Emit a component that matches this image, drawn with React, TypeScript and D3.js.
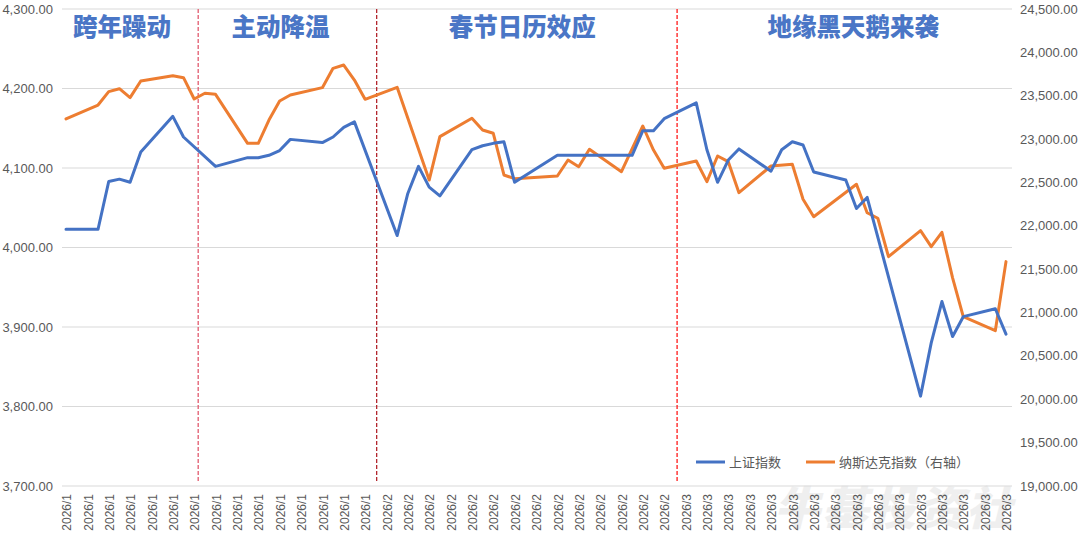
import { useEffect, useRef } from "react";
import * as d3 from "d3";

// trading dates (union of both markets, weekends left out; lines connect over gaps)
const dates = [
  "2026-01-02", "2026-01-05", "2026-01-06", "2026-01-07", "2026-01-08", "2026-01-09",
  "2026-01-12", "2026-01-13", "2026-01-14", "2026-01-15", "2026-01-16",
  "2026-01-19", "2026-01-20", "2026-01-21", "2026-01-22", "2026-01-23",
  "2026-01-26", "2026-01-27", "2026-01-28", "2026-01-29", "2026-01-30",
  "2026-02-02", "2026-02-03", "2026-02-04", "2026-02-05", "2026-02-06",
  "2026-02-09", "2026-02-10", "2026-02-11", "2026-02-12", "2026-02-13",
  "2026-02-17", "2026-02-18", "2026-02-19", "2026-02-20",
  "2026-02-23", "2026-02-24", "2026-02-25", "2026-02-26", "2026-02-27",
  "2026-03-02", "2026-03-03", "2026-03-04", "2026-03-05", "2026-03-06",
  "2026-03-09", "2026-03-10", "2026-03-11", "2026-03-12", "2026-03-13",
  "2026-03-16", "2026-03-17", "2026-03-18", "2026-03-19", "2026-03-20",
  "2026-03-23", "2026-03-24", "2026-03-25", "2026-03-26", "2026-03-27",
  "2026-03-30", "2026-03-31",
];

// 上证指数 (left axis)
const shanghai: (number | null)[] = [
  4023, 4023, 4083, 4086, 4082, 4120,
  4165, 4139, null, null, 4102,
  4113, 4113, 4116, 4122, 4136,
  4132, 4139, 4151, 4158, null,
  4015, 4068, 4102, 4076, 4065,
  4123, 4128, 4131, 4133, 4082,
  4116, null, null, null,
  null, 4116, 4147, 4147, 4162,
  4182, 4123, 4082, 4110, 4124,
  4096, 4123, 4133, 4129, 4095,
  4085, 4049, 4063, null, null,
  3813, 3880, 3932, 3888, 3913,
  3923, 3891,
];

// 纳斯达克指数 (right axis)
const nasdaq: (number | null)[] = [
  23232, 23393, 23547, 23581, 23478, 23670,
  23731, 23708, 23462, 23528, 23516,
  22951, 22951, 23220, 23439, 23508,
  23593, 23816, 23854, 23681, 23459,
  23597, null, null, 22528, 23028,
  23240, 23105, 23067, 22586, 22544,
  22574, 22759, 22682, 22882,
  22624, null, 23151, 22874, 22663,
  22747, 22509, 22805, 22740, 22382,
  22690, null, 22709, 22306, 22105,
  null, 22479, 22151, 22087, 21644,
  21944, 21760, 21925, 21400, 20952,
  20791, 21587,
];

const leftTicks = [3700, 3800, 3900, 4000, 4100, 4200, 4300];
const rightTicks = [19000, 19500, 20000, 20500, 21000, 21500, 22000, 22500, 23000, 23500, 24000, 24500];

const phaseNames = ["跨年躁动", "主动降温", "春节日历效应", "地缘黑天鹅来袭"];
const phaseLabelAt = ["2026-01-07 06:00", "2026-01-22 02:00", "2026-02-13 17:00", "2026-03-16 17:00"];
const phaseBreaks = ["2026-01-14 09:00", "2026-01-31 02:00", "2026-02-28 05:00"];
const breakColors = ["#e25a6e", "#b3262e", "#ff1a1a"];

const seriesNames = ["上证指数", "纳斯达克指数（右轴）"];
const BLUE = "#4472C4";
const ORANGE = "#ED7D31";
const FONT = "'Liberation Sans', Arial, 'Noto Sans CJK SC', sans-serif";

export default function App() {
  const ref = useRef<SVGSVGElement>(null);

  useEffect(() => {
    if (!ref.current) return;
    const svg = d3.select(ref.current);
    svg.selectAll("*").remove();

    const parse = d3.timeParse("%Y-%m-%d");
    const parseT = d3.timeParse("%Y-%m-%d %H:%M");
    const days = dates.map((d) => parse(d) as Date);

    const top = 9;
    const bottom = 486;
    const x = d3.scaleTime().domain([days[0], days[days.length - 1]]).range([66, 1006]);
    const yL = d3.scaleLinear().domain([3700, 4300]).range([bottom, top]);
    const yR = d3.scaleLinear().domain([19000, 24500]).range([bottom, top]);

    // watermark
    svg
      .append("text")
      .attr("x", 0)
      .attr("y", 0)
      .attr("transform", "translate(774,525) skewX(-14)")
      .attr("font-family", "'Noto Sans CJK SC', sans-serif")
      .attr("font-weight", 900)
      .attr("font-size", 46)
      .attr("letter-spacing", 2)
      .attr("fill", "#efefef")
      .text("牛基投资社");

    // grid
    svg
      .append("g")
      .selectAll("line")
      .data(leftTicks)
      .join("line")
      .attr("x1", 62)
      .attr("x2", 1012)
      .attr("y1", (d) => yL(d))
      .attr("y2", (d) => yL(d))
      .attr("stroke", "#d9d9d9")
      .attr("stroke-width", 1);

    // left axis labels
    svg
      .append("g")
      .selectAll("text")
      .data(leftTicks)
      .join("text")
      .attr("x", 53)
      .attr("y", (d) => yL(d))
      .attr("dy", "0.35em")
      .attr("text-anchor", "end")
      .attr("font-family", FONT)
      .attr("font-size", 13)
      .attr("fill", "#595959")
      .text((d) => d3.format(",.2f")(d));

    // right axis labels
    svg
      .append("g")
      .selectAll("text")
      .data(rightTicks)
      .join("text")
      .attr("x", 1020)
      .attr("y", (d) => yR(d))
      .attr("dy", "0.35em")
      .attr("font-family", FONT)
      .attr("font-size", 13)
      .attr("fill", "#595959")
      .text((d) => d3.format(",.2f")(d));

    // x labels every other day
    const xTicks = d3.timeDay.range(days[0], d3.timeDay.offset(days[days.length - 1], 1), 2);
    const fmt = d3.timeFormat("%Y/%-m");
    svg
      .append("g")
      .selectAll("text")
      .data(xTicks)
      .join("text")
      .attr("transform", (d) => `translate(${x(d) + 1},494) rotate(-90)`)
      .attr("dy", "0.35em")
      .attr("text-anchor", "end")
      .attr("font-family", FONT)
      .attr("font-size", 12)
      .attr("fill", "#595959")
      .text((d) => fmt(d));

    // phase break lines
    svg
      .append("g")
      .selectAll("line")
      .data(phaseBreaks)
      .join("line")
      .attr("x1", (d) => x(parseT(d) as Date))
      .attr("x2", (d) => x(parseT(d) as Date))
      .attr("y1", top)
      .attr("y2", bottom - 3)
      .attr("stroke", (_, i) => breakColors[i])
      .attr("stroke-width", 1.3)
      .attr("stroke-dasharray", "4,2");

    // phase titles
    svg
      .append("g")
      .selectAll("text")
      .data(phaseNames)
      .join("text")
      .attr("x", (_, i) => x(parseT(phaseLabelAt[i]) as Date))
      .attr("y", 36)
      .attr("text-anchor", "middle")
      .attr("font-family", "'Noto Sans CJK SC', sans-serif")
      .attr("font-weight", 900)
      .attr("font-size", 24.5)
      .attr("fill", "#4a76c6")
      .text((d) => d);

    // lines
    type Pt = { date: Date; v: number };
    const toPts = (vals: (number | null)[]): Pt[] =>
      vals
        .map((v, i) => ({ date: days[i], v }))
        .filter((p): p is Pt => p.v !== null);

    const lineL = d3.line<Pt>().x((p) => x(p.date)).y((p) => yL(p.v));
    const lineR = d3.line<Pt>().x((p) => x(p.date)).y((p) => yR(p.v));

    svg
      .append("path")
      .attr("d", lineR(toPts(nasdaq)))
      .attr("fill", "none")
      .attr("stroke", ORANGE)
      .attr("stroke-width", 3)
      .attr("stroke-linejoin", "round")
      .attr("stroke-linecap", "round");

    svg
      .append("path")
      .attr("d", lineL(toPts(shanghai)))
      .attr("fill", "none")
      .attr("stroke", BLUE)
      .attr("stroke-width", 3)
      .attr("stroke-linejoin", "round")
      .attr("stroke-linecap", "round");

    // legend
    const legend = svg.append("g").attr("transform", "translate(696,462)");
    const legX = [0, 110];
    const legColors = [BLUE, ORANGE];
    seriesNames.forEach((name, i) => {
      legend
        .append("line")
        .attr("x1", legX[i])
        .attr("x2", legX[i] + 29)
        .attr("y1", 0)
        .attr("y2", 0)
        .attr("stroke", legColors[i])
        .attr("stroke-width", 3);
      legend
        .append("text")
        .attr("x", legX[i] + 33)
        .attr("y", 0)
        .attr("dy", "0.35em")
        .attr("font-family", "'Noto Sans CJK SC', sans-serif")
        .attr("font-size", 13)
        .attr("fill", "#595959")
        .text(name);
    });
  }, []);

  return (
    <svg
      ref={ref}
      width={1080}
      height={541}
      style={{ position: "absolute", left: 0, top: 0, background: "#fff" }}
    />
  );
}
